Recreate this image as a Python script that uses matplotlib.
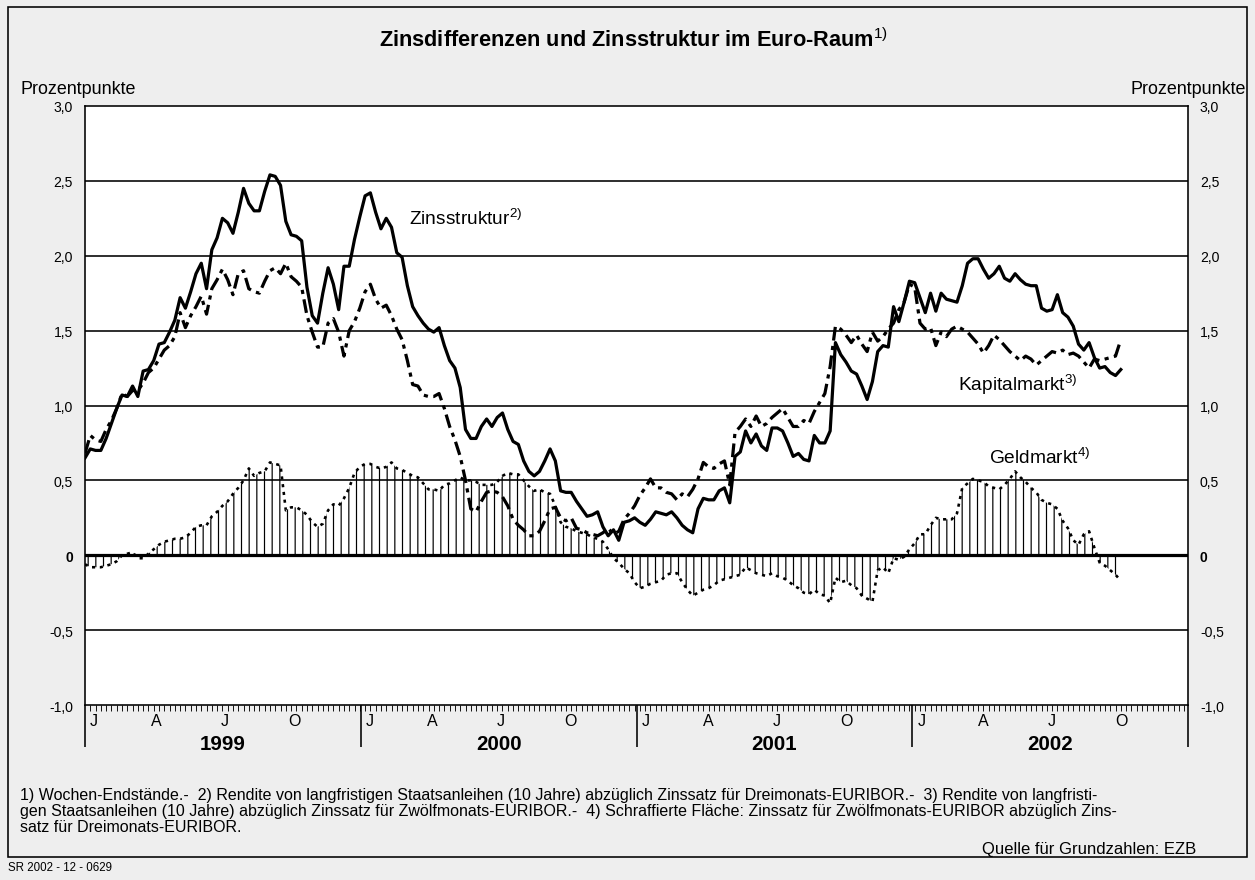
import numpy as np
import pandas as pd
import matplotlib
matplotlib.use("Agg")
import matplotlib.pyplot as plt
import matplotlib.dates as mdates
from matplotlib import font_manager as fm
from matplotlib.patches import Rectangle
from matplotlib.transforms import blended_transform_factory

DPI = 92
W, H = 1255, 881


def pt(px):
    return px * 72.0 / DPI


avail = {f.name for f in fm.fontManager.ttflist}
FONT = next(f for f in ["Liberation Sans", "DejaVu Sans"] if f in avail)
plt.rcParams["font.family"] = [FONT, "DejaVu Sans"]
plt.rcParams["mathtext.fontset"] = "custom"
plt.rcParams["mathtext.rm"] = FONT
plt.rcParams["mathtext.bf"] = FONT + ":bold"
plt.rcParams["hatch.linewidth"] = pt(1.2)

# ---------------- data (weekly end-of-week values, percentage points) -------------
dates = pd.date_range("1999-01-01", "2002-10-04", freq="W-FRI")

zins_1999 = [0.65, 0.71, 0.70, 0.70, 0.78, 0.88, 0.98, 1.07, 1.06, 1.13, 1.06, 1.23, 1.24,
             1.30, 1.41, 1.42, 1.49, 1.57, 1.72, 1.65, 1.76, 1.88, 1.95, 1.78, 2.04, 2.12,
             2.25, 2.22, 2.15, 2.29, 2.45, 2.35, 2.30, 2.30, 2.43, 2.54, 2.53, 2.47, 2.23,
             2.14, 2.13, 2.10, 1.79, 1.60, 1.55, 1.75, 1.92, 1.81, 1.64, 1.93, 1.93, 2.11,
             2.26]
zins_2000 = [2.40, 2.42, 2.29, 2.18, 2.25, 2.19, 2.02, 1.99, 1.80, 1.66, 1.60, 1.55, 1.51,
             1.49, 1.52, 1.40, 1.30, 1.25, 1.12, 0.84, 0.78, 0.78, 0.86, 0.91, 0.86, 0.92,
             0.95, 0.84, 0.76, 0.74, 0.63, 0.56, 0.53, 0.56, 0.63, 0.71, 0.63, 0.43, 0.42,
             0.42, 0.36, 0.31, 0.26, 0.27, 0.29, 0.19, 0.13, 0.17, 0.10, 0.22, 0.23, 0.25]
zins_2001 = [0.22, 0.20, 0.24, 0.29, 0.28, 0.27, 0.29, 0.25, 0.20, 0.17, 0.15, 0.31, 0.38,
             0.37, 0.37, 0.43, 0.45, 0.35, 0.66, 0.69, 0.83, 0.75, 0.81, 0.73, 0.70, 0.85,
             0.85, 0.83, 0.75, 0.66, 0.68, 0.64, 0.63, 0.80, 0.75, 0.75, 0.83, 1.42, 1.34,
             1.29, 1.23, 1.21, 1.13, 1.04, 1.16, 1.36, 1.40, 1.39, 1.66, 1.56, 1.69, 1.83]
zins_2002 = [1.82, 1.72, 1.62, 1.75, 1.63, 1.75, 1.71, 1.70, 1.69, 1.80, 1.95, 1.98, 1.98,
             1.91, 1.85, 1.88, 1.93, 1.85, 1.83, 1.88, 1.84, 1.81, 1.80, 1.80, 1.65, 1.63,
             1.64, 1.74, 1.62, 1.59, 1.53, 1.41, 1.37, 1.42, 1.32, 1.25, 1.26, 1.22, 1.20,
             1.24]

kap_1999 = [0.68, 0.80, 0.77, 0.76, 0.84, 0.90, 0.98, 1.08, 1.06, 1.10, 1.10, 1.15, 1.22,
            1.25, 1.31, 1.37, 1.40, 1.46, 1.62, 1.52, 1.60, 1.66, 1.73, 1.61, 1.78, 1.84,
            1.91, 1.84, 1.74, 1.88, 1.90, 1.78, 1.76, 1.75, 1.83, 1.90, 1.92, 1.88, 1.95,
            1.86, 1.83, 1.79, 1.60, 1.49, 1.39, 1.39, 1.55, 1.58, 1.49, 1.33, 1.50, 1.56,
            1.65]
kap_2000 = [1.76, 1.81, 1.71, 1.65, 1.67, 1.60, 1.51, 1.44, 1.30, 1.14, 1.13, 1.07, 1.06,
            1.06, 1.08, 0.98, 0.86, 0.77, 0.66, 0.50, 0.31, 0.29, 0.36, 0.42, 0.43, 0.42,
            0.39, 0.33, 0.24, 0.20, 0.17, 0.13, 0.13, 0.16, 0.23, 0.31, 0.32, 0.25, 0.23,
            0.25, 0.18, 0.17, 0.15, 0.14, 0.13, 0.15, 0.18, 0.14, 0.16, 0.24, 0.28, 0.33]
kap_2001 = [0.40, 0.45, 0.51, 0.45, 0.45, 0.42, 0.41, 0.37, 0.41, 0.39, 0.44, 0.51, 0.62,
            0.59, 0.58, 0.61, 0.63, 0.47, 0.82, 0.86, 0.91, 0.86, 0.93, 0.86, 0.88, 0.92,
            0.95, 0.98, 0.92, 0.86, 0.86, 0.90, 0.88, 0.96, 1.02, 1.08, 1.26, 1.53, 1.51,
            1.47, 1.42, 1.47, 1.41, 1.36, 1.49, 1.43, 1.46, 1.51, 1.55, 1.64, 1.69, 1.81]
kap_2002 = [1.79, 1.55, 1.51, 1.52, 1.40, 1.49, 1.46, 1.51, 1.53, 1.51, 1.49, 1.45, 1.41,
            1.35, 1.40, 1.47, 1.44, 1.40, 1.36, 1.33, 1.30, 1.33, 1.31, 1.27, 1.30, 1.33,
            1.36, 1.35, 1.37, 1.34, 1.35, 1.33, 1.29, 1.25, 1.31, 1.30, 1.31, 1.32, 1.33,
            1.44]

geld_1999 = [-0.06, -0.08, -0.08, -0.08, -0.07, -0.06, -0.04, 0.00, 0.01, 0.02, -0.02,
             -0.02, 0.01, 0.04, 0.07, 0.09, 0.10, 0.11, 0.11, 0.12, 0.15, 0.19, 0.20, 0.20,
             0.26, 0.29, 0.33, 0.36, 0.41, 0.45, 0.50, 0.58, 0.53, 0.55, 0.56, 0.62, 0.61,
             0.60, 0.30, 0.32, 0.32, 0.30, 0.27, 0.22, 0.19, 0.21, 0.30, 0.34, 0.33, 0.38,
             0.45, 0.55, 0.59]
geld_2000 = [0.61, 0.61, 0.59, 0.58, 0.59, 0.62, 0.58, 0.57, 0.55, 0.53, 0.52, 0.48, 0.44,
             0.44, 0.43, 0.47, 0.48, 0.50, 0.52, 0.50, 0.50, 0.49, 0.47, 0.47, 0.47, 0.49,
             0.53, 0.55, 0.54, 0.54, 0.50, 0.46, 0.43, 0.44, 0.42, 0.41, 0.33, 0.22, 0.19,
             0.18, 0.16, 0.15, 0.14, 0.12, 0.11, 0.09, 0.04, -0.02, -0.05, -0.09, -0.12,
             -0.18]
geld_2001 = [-0.22, -0.21, -0.19, -0.18, -0.17, -0.13, -0.12, -0.12, -0.18, -0.23, -0.27,
             -0.25, -0.23, -0.22, -0.20, -0.17, -0.16, -0.15, -0.14, -0.13, -0.08, -0.10,
             -0.12, -0.13, -0.14, -0.12, -0.14, -0.15, -0.17, -0.20, -0.22, -0.25, -0.26,
             -0.23, -0.26, -0.27, -0.32, -0.15, -0.18, -0.17, -0.20, -0.22, -0.27, -0.29,
             -0.31, -0.10, -0.08, -0.12, -0.02, -0.03, -0.01, 0.04]
geld_2002 = [0.08, 0.14, 0.14, 0.20, 0.25, 0.24, 0.24, 0.24, 0.28, 0.45, 0.48, 0.51, 0.50,
             0.49, 0.46, 0.45, 0.44, 0.47, 0.51, 0.56, 0.52, 0.49, 0.45, 0.42, 0.37, 0.35,
             0.34, 0.31, 0.23, 0.18, 0.10, 0.07, 0.14, 0.16, 0.05, -0.05, -0.07, -0.10,
             -0.13, -0.17]

zins = np.array(zins_1999 + zins_2000 + zins_2001 + zins_2002)
kap = np.array(kap_1999 + kap_2000 + kap_2001 + kap_2002)
geld = np.array(geld_1999 + geld_2000 + geld_2001 + geld_2002)
assert len(zins) == len(dates) == len(kap) == len(geld), (len(zins), len(kap), len(geld), len(dates))

years = [1999, 2000, 2001, 2002]
quarter_labels = ["J", "A", "J", "O"]
ytick_vals = [-1.0, -0.5, 0.0, 0.5, 1.0, 1.5, 2.0, 2.5, 3.0]
ytick_labels = ["-1,0", "-0,5", "0", "0,5", "1,0", "1,5", "2,0", "2,5", "3,0"]

# ---------------- figure ----------------
fig = plt.figure(figsize=(W / DPI, H / DPI), dpi=DPI, facecolor="#eeeeee")
L, R, T, B = 85, 1188, 107, 706
ax = fig.add_axes([L / W, 1 - B / H, (R - L) / W, (B - T) / H])
ax.set_facecolor("white")

ax.set_xlim(pd.Timestamp("1999-01-01"), pd.Timestamp("2003-01-01"))
ax.set_ylim(-1.0, 3.0)

# hatched Geldmarkt area
ax.fill_between(dates, 0, geld, facecolor="none", edgecolor="black", hatch="||",
                linewidth=0, zorder=1)

# gridlines
for v in ytick_vals[1:-1]:
    ax.axhline(v, color="black", lw=pt(3.2) if v == 0 else pt(1.6), zorder=2)

ax.plot(dates, geld, color="black", lw=pt(2.6), dashes=[1.2, 1.8], zorder=3)
ax.plot(dates, kap, color="black", lw=pt(3.2), dashes=[4.3, 1.7, 1.3, 1.7], zorder=4)
ax.plot(dates, zins, color="black", lw=pt(3.2), solid_joinstyle="round", zorder=5)

for s in ax.spines.values():
    s.set_linewidth(pt(1.6))
    s.set_color("black")

# y ticks both sides
ax.set_yticks(ytick_vals)
ax.set_yticklabels(ytick_labels)
ax.tick_params(axis="y", length=0, labelsize=11, pad=pt(12), labelright=True)
for i, t in enumerate(ax.yaxis.get_major_ticks()):
    t.label2.set_fontsize(11)
    if ytick_vals[i] == 0:
        t.label1.set_fontweight("bold")
        t.label2.set_fontweight("bold")

# x ticks: year boundaries (long), weekly comb (short)
ax.set_xticks([pd.Timestamp(f"{y}-01-01") for y in years + [2003]])
ax.set_xticklabels([])
ax.xaxis.set_minor_locator(matplotlib.ticker.FixedLocator(
    mdates.date2num(pd.date_range("1999-01-01", "2002-12-31", freq="7D"))))
ax.tick_params(axis="x", which="major", length=pt(42), width=pt(1.6), direction="out")
ax.tick_params(axis="x", which="minor", length=pt(6), width=pt(0.9), direction="out")

trans = blended_transform_factory(ax.transData, ax.transAxes)
for y in years:
    for q, lab in enumerate(quarter_labels):
        d = pd.Timestamp(f"{y}-{3 * q + 1:02d}-01")
        off = 9 if q == 0 else 3
        ax.annotate(lab, xy=(mdates.date2num(d), 0), xycoords=trans,
                    xytext=(pt(off), -pt(15)), textcoords="offset points",
                    ha="center", va="center", fontsize=12.5)
    ax.annotate(str(y), xy=(mdates.date2num(pd.Timestamp(f"{y}-07-02")), 0), xycoords=trans,
                xytext=(0, -pt(39)), textcoords="offset points",
                ha="center", va="center", fontsize=16, fontweight="bold")

# series labels
ax.text((409 - L) / (R - L), (B - 219) / (B - T), r"Zinsstruktur$^{\mathrm{2)}}$",
        transform=ax.transAxes, ha="left", va="center", fontsize=15)
ax.text((958 - L) / (R - L), (B - 385) / (B - T), r"Kapitalmarkt$^{\mathrm{3)}}$",
        transform=ax.transAxes, ha="left", va="center", fontsize=15)
ax.text((989 - L) / (R - L), (B - 458) / (B - T), r"Geldmarkt$^{\mathrm{4)}}$",
        transform=ax.transAxes, ha="left", va="center", fontsize=15)

# figure texts
fig.text(634 / W, 1 - 40 / H, r"Zinsdifferenzen und Zinsstruktur im Euro-Raum$^{\mathrm{1)}}$",
         ha="center", va="center", fontsize=17, fontweight="bold")
fig.text(21 / W, 1 - 90 / H, "Prozentpunkte", ha="left", va="center", fontsize=14)
fig.text(1246 / W, 1 - 90 / H, "Prozentpunkte", ha="right", va="center", fontsize=14)

foot = [
    "1) Wochen-Endstände.-  2) Rendite von langfristigen Staatsanleihen (10 Jahre) abzüglich Zinssatz für Dreimonats-EURIBOR.-  3) Rendite von langfristi-",
    "gen Staatsanleihen (10 Jahre) abzüglich Zinssatz für Zwölfmonats-EURIBOR.-  4) Schraffierte Fläche: Zinssatz für Zwölfmonats-EURIBOR abzüglich Zins-",
    "satz für Dreimonats-EURIBOR.",
]
for i, line in enumerate(foot):
    fig.text(20 / W, 1 - (796 + 16 * i) / H, line, ha="left", va="center", fontsize=12.5)
fig.text(1196 / W, 1 - 850 / H, "Quelle für Grundzahlen: EZB", ha="right", va="center",
         fontsize=13)
fig.text(8 / W, 1 - 868 / H, "SR 2002 - 12 - 0629", ha="left", va="center", fontsize=9)

fig.patches.append(Rectangle((8 / W, 1 - 858 / H), (1247 - 8) / W, (858 - 8) / H,
                             transform=fig.transFigure, fill=False, lw=pt(1.6),
                             edgecolor="black"))

fig.savefig("out.png", dpi=DPI, facecolor=fig.get_facecolor())
